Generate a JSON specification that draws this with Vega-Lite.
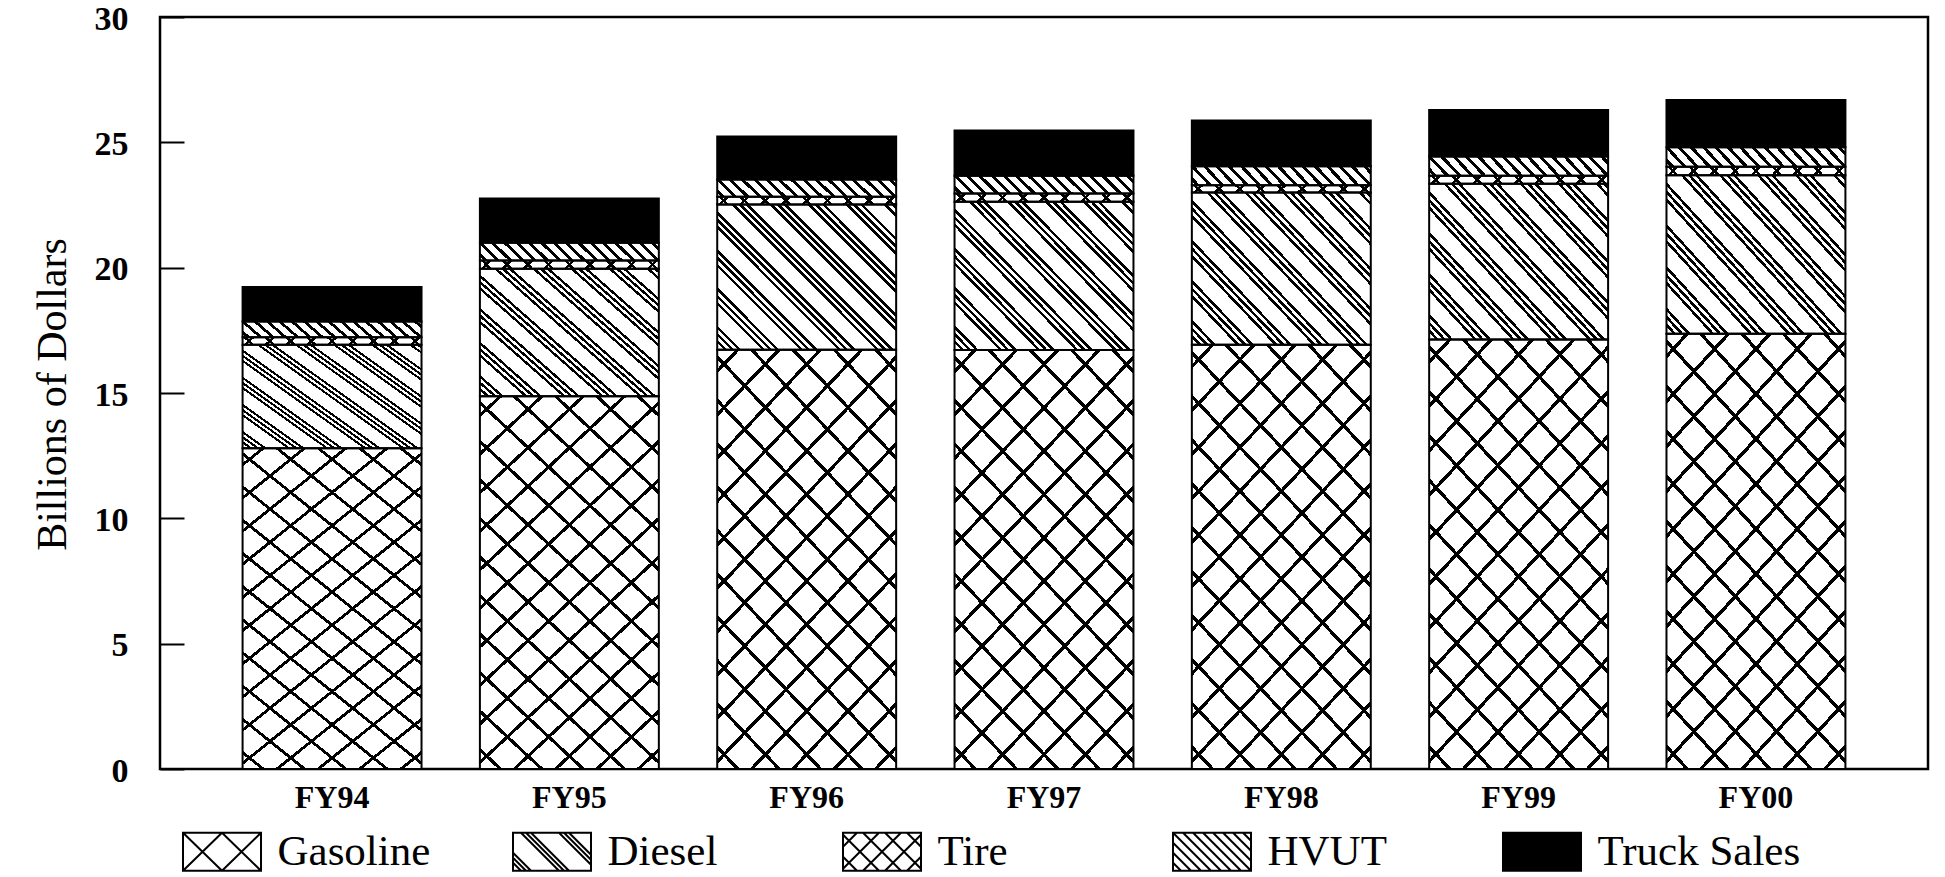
{
  "$schema": "https://vega.github.io/schema/vega-lite/v6.json",
  "autosize": {"type": "none"},
  "padding": {"left": 160, "top": 17, "right": 17, "bottom": 108},
  "width": 1768,
  "height": 752,
  "background": "white",
  "config": {
    "view": {"stroke": "black", "strokeWidth": 2.5},
    "font": "Liberation Serif"
  },
  "data": {"values": [
    {"year": "FY94", "type": "Gasoline", "stack_order": 1, "value": 12.8},
    {"year": "FY94", "type": "Diesel", "stack_order": 2, "value": 4.12},
    {"year": "FY94", "type": "Tire", "stack_order": 3, "value": 0.3},
    {"year": "FY94", "type": "HVUT", "stack_order": 4, "value": 0.63},
    {"year": "FY94", "type": "Truck Sales", "stack_order": 5, "value": 1.38},
    {"year": "FY95", "type": "Gasoline", "stack_order": 1, "value": 14.87},
    {"year": "FY95", "type": "Diesel", "stack_order": 2, "value": 5.09},
    {"year": "FY95", "type": "Tire", "stack_order": 3, "value": 0.33},
    {"year": "FY95", "type": "HVUT", "stack_order": 4, "value": 0.7},
    {"year": "FY95", "type": "Truck Sales", "stack_order": 5, "value": 1.77},
    {"year": "FY96", "type": "Gasoline", "stack_order": 1, "value": 16.73},
    {"year": "FY96", "type": "Diesel", "stack_order": 2, "value": 5.79},
    {"year": "FY96", "type": "Tire", "stack_order": 3, "value": 0.31},
    {"year": "FY96", "type": "HVUT", "stack_order": 4, "value": 0.69},
    {"year": "FY96", "type": "Truck Sales", "stack_order": 5, "value": 1.71},
    {"year": "FY97", "type": "Gasoline", "stack_order": 1, "value": 16.72},
    {"year": "FY97", "type": "Diesel", "stack_order": 2, "value": 5.91},
    {"year": "FY97", "type": "Tire", "stack_order": 3, "value": 0.33},
    {"year": "FY97", "type": "HVUT", "stack_order": 4, "value": 0.71},
    {"year": "FY97", "type": "Truck Sales", "stack_order": 5, "value": 1.8},
    {"year": "FY98", "type": "Gasoline", "stack_order": 1, "value": 16.92},
    {"year": "FY98", "type": "Diesel", "stack_order": 2, "value": 6.08},
    {"year": "FY98", "type": "Tire", "stack_order": 3, "value": 0.29},
    {"year": "FY98", "type": "HVUT", "stack_order": 4, "value": 0.76},
    {"year": "FY98", "type": "Truck Sales", "stack_order": 5, "value": 1.82},
    {"year": "FY99", "type": "Gasoline", "stack_order": 1, "value": 17.13},
    {"year": "FY99", "type": "Diesel", "stack_order": 2, "value": 6.22},
    {"year": "FY99", "type": "Tire", "stack_order": 3, "value": 0.32},
    {"year": "FY99", "type": "HVUT", "stack_order": 4, "value": 0.76},
    {"year": "FY99", "type": "Truck Sales", "stack_order": 5, "value": 1.86},
    {"year": "FY00", "type": "Gasoline", "stack_order": 1, "value": 17.36},
    {"year": "FY00", "type": "Diesel", "stack_order": 2, "value": 6.33},
    {"year": "FY00", "type": "Tire", "stack_order": 3, "value": 0.34},
    {"year": "FY00", "type": "HVUT", "stack_order": 4, "value": 0.77},
    {"year": "FY00", "type": "Truck Sales", "stack_order": 5, "value": 1.89}
  ]},
  "encoding": {
    "x": {
      "field": "year", "type": "ordinal", "sort": null,
      "scale": {"paddingInner": 0.246, "paddingOuter": 0.348},
      "axis": {
        "title": null, "labelAngle": 0, "ticks": false, "tickSize": 0, "domain": false,
        "labelFont": "Liberation Serif", "labelFontWeight": "bold", "labelFontSize": 32,
        "labelColor": "black", "labelPadding": 38, "labelBaseline": "alphabetic"
      }
    },
    "y": {
      "field": "value", "type": "quantitative", "stack": "zero",
      "scale": {"domain": [0, 30], "nice": false},
      "axis": {
        "title": "Billions of Dollars", "values": [0, 5, 10, 15, 20, 25, 30],
        "grid": false, "domain": false, "tickSize": -24, "tickWidth": 2, "tickColor": "black",
        "labelFont": "Liberation Serif", "labelFontWeight": "bold", "labelFontSize": 34,
        "labelColor": "black", "labelPadding": 56, "labelOffset": 2,
        "titleFont": "Liberation Serif", "titleFontWeight": "normal", "titleFontSize": 42,
        "titleColor": "black", "titleX": -95, "titleY": 377, "titleBaseline": "alphabetic", "titleAngle": -90
      }
    },
    "order": {"field": "stack_order", "type": "quantitative", "sort": "ascending"}
  },
  "layer": [
    {
      "mark": {"type": "bar", "strokeWidth": 0},
      "encoding": {
        "color": {
          "field": "type", "type": "nominal",
          "sort": ["Gasoline", "Diesel", "Tire", "HVUT", "Truck Sales"],
          "scale": {"domain": ["Gasoline", "Diesel", "Tire", "HVUT", "Truck Sales"], "range": ["white", "white", "white", "white", "black"]},
          "condition": [
            {"test": "datum.type === 'Gasoline'", "value": {"gradient": "linear", "x1": 0, "y1": 1, "x2": 0.54, "y2": -0.206, "stops": [
              {"offset": 0, "color": "#fff"},
              {"offset": 0.0317, "color": "#fff"}, {"offset": 0.0317, "color": "#000"}, {"offset": 0.0397, "color": "#000"}, {"offset": 0.0397, "color": "#fff"},
              {"offset": 0.1031, "color": "#fff"}, {"offset": 0.1031, "color": "#000"}, {"offset": 0.1111, "color": "#000"}, {"offset": 0.1111, "color": "#fff"},
              {"offset": 0.1746, "color": "#fff"}, {"offset": 0.1746, "color": "#000"}, {"offset": 0.1826, "color": "#000"}, {"offset": 0.1826, "color": "#fff"},
              {"offset": 0.246, "color": "#fff"}, {"offset": 0.246, "color": "#000"}, {"offset": 0.254, "color": "#000"}, {"offset": 0.254, "color": "#fff"},
              {"offset": 0.3174, "color": "#fff"}, {"offset": 0.3174, "color": "#000"}, {"offset": 0.3254, "color": "#000"}, {"offset": 0.3254, "color": "#fff"},
              {"offset": 0.3889, "color": "#fff"}, {"offset": 0.3889, "color": "#000"}, {"offset": 0.3969, "color": "#000"}, {"offset": 0.3969, "color": "#fff"},
              {"offset": 0.4603, "color": "#fff"}, {"offset": 0.4603, "color": "#000"}, {"offset": 0.4683, "color": "#000"}, {"offset": 0.4683, "color": "#fff"},
              {"offset": 0.5317, "color": "#fff"}, {"offset": 0.5317, "color": "#000"}, {"offset": 0.5397, "color": "#000"}, {"offset": 0.5397, "color": "#fff"},
              {"offset": 0.6031, "color": "#fff"}, {"offset": 0.6031, "color": "#000"}, {"offset": 0.6111, "color": "#000"}, {"offset": 0.6111, "color": "#fff"},
              {"offset": 0.6746, "color": "#fff"}, {"offset": 0.6746, "color": "#000"}, {"offset": 0.6826, "color": "#000"}, {"offset": 0.6826, "color": "#fff"},
              {"offset": 0.746, "color": "#fff"}, {"offset": 0.746, "color": "#000"}, {"offset": 0.754, "color": "#000"}, {"offset": 0.754, "color": "#fff"},
              {"offset": 0.8174, "color": "#fff"}, {"offset": 0.8174, "color": "#000"}, {"offset": 0.8254, "color": "#000"}, {"offset": 0.8254, "color": "#fff"},
              {"offset": 0.8889, "color": "#fff"}, {"offset": 0.8889, "color": "#000"}, {"offset": 0.8969, "color": "#000"}, {"offset": 0.8969, "color": "#fff"},
              {"offset": 0.9603, "color": "#fff"}, {"offset": 0.9603, "color": "#000"}, {"offset": 0.9683, "color": "#000"}, {"offset": 0.9683, "color": "#fff"},
              {"offset": 1, "color": "#fff"}
            ]}},
            {"test": "datum.type === 'Diesel'", "value": {"gradient": "linear", "x1": 0, "y1": 1, "x2": 1.093, "y2": 0.115, "stops": [
              {"offset": 0, "color": "#fff"},
              {"offset": 0.02, "color": "#fff"}, {"offset": 0.02, "color": "#000"}, {"offset": 0.031, "color": "#000"}, {"offset": 0.031, "color": "#fff"},
              {"offset": 0.042, "color": "#fff"}, {"offset": 0.042, "color": "#000"}, {"offset": 0.053, "color": "#000"}, {"offset": 0.053, "color": "#fff"},
              {"offset": 0.064, "color": "#fff"}, {"offset": 0.064, "color": "#000"}, {"offset": 0.075, "color": "#000"}, {"offset": 0.075, "color": "#fff"},
              {"offset": 0.1376, "color": "#fff"}, {"offset": 0.1376, "color": "#000"}, {"offset": 0.1486, "color": "#000"}, {"offset": 0.1486, "color": "#fff"},
              {"offset": 0.1596, "color": "#fff"}, {"offset": 0.1596, "color": "#000"}, {"offset": 0.1706, "color": "#000"}, {"offset": 0.1706, "color": "#fff"},
              {"offset": 0.1816, "color": "#fff"}, {"offset": 0.1816, "color": "#000"}, {"offset": 0.1926, "color": "#000"}, {"offset": 0.1926, "color": "#fff"},
              {"offset": 0.2552, "color": "#fff"}, {"offset": 0.2552, "color": "#000"}, {"offset": 0.2662, "color": "#000"}, {"offset": 0.2662, "color": "#fff"},
              {"offset": 0.2772, "color": "#fff"}, {"offset": 0.2772, "color": "#000"}, {"offset": 0.2882, "color": "#000"}, {"offset": 0.2882, "color": "#fff"},
              {"offset": 0.2992, "color": "#fff"}, {"offset": 0.2992, "color": "#000"}, {"offset": 0.3102, "color": "#000"}, {"offset": 0.3102, "color": "#fff"},
              {"offset": 0.3728, "color": "#fff"}, {"offset": 0.3728, "color": "#000"}, {"offset": 0.3838, "color": "#000"}, {"offset": 0.3838, "color": "#fff"},
              {"offset": 0.3948, "color": "#fff"}, {"offset": 0.3948, "color": "#000"}, {"offset": 0.4058, "color": "#000"}, {"offset": 0.4058, "color": "#fff"},
              {"offset": 0.4168, "color": "#fff"}, {"offset": 0.4168, "color": "#000"}, {"offset": 0.4278, "color": "#000"}, {"offset": 0.4278, "color": "#fff"},
              {"offset": 0.4904, "color": "#fff"}, {"offset": 0.4904, "color": "#000"}, {"offset": 0.5014, "color": "#000"}, {"offset": 0.5014, "color": "#fff"},
              {"offset": 0.5124, "color": "#fff"}, {"offset": 0.5124, "color": "#000"}, {"offset": 0.5234, "color": "#000"}, {"offset": 0.5234, "color": "#fff"},
              {"offset": 0.5344, "color": "#fff"}, {"offset": 0.5344, "color": "#000"}, {"offset": 0.5454, "color": "#000"}, {"offset": 0.5454, "color": "#fff"},
              {"offset": 0.608, "color": "#fff"}, {"offset": 0.608, "color": "#000"}, {"offset": 0.619, "color": "#000"}, {"offset": 0.619, "color": "#fff"},
              {"offset": 0.63, "color": "#fff"}, {"offset": 0.63, "color": "#000"}, {"offset": 0.641, "color": "#000"}, {"offset": 0.641, "color": "#fff"},
              {"offset": 0.652, "color": "#fff"}, {"offset": 0.652, "color": "#000"}, {"offset": 0.663, "color": "#000"}, {"offset": 0.663, "color": "#fff"},
              {"offset": 0.7256, "color": "#fff"}, {"offset": 0.7256, "color": "#000"}, {"offset": 0.7366, "color": "#000"}, {"offset": 0.7366, "color": "#fff"},
              {"offset": 0.7476, "color": "#fff"}, {"offset": 0.7476, "color": "#000"}, {"offset": 0.7586, "color": "#000"}, {"offset": 0.7586, "color": "#fff"},
              {"offset": 0.7696, "color": "#fff"}, {"offset": 0.7696, "color": "#000"}, {"offset": 0.7806, "color": "#000"}, {"offset": 0.7806, "color": "#fff"},
              {"offset": 0.8432, "color": "#fff"}, {"offset": 0.8432, "color": "#000"}, {"offset": 0.8542, "color": "#000"}, {"offset": 0.8542, "color": "#fff"},
              {"offset": 0.8652, "color": "#fff"}, {"offset": 0.8652, "color": "#000"}, {"offset": 0.8762, "color": "#000"}, {"offset": 0.8762, "color": "#fff"},
              {"offset": 0.8872, "color": "#fff"}, {"offset": 0.8872, "color": "#000"}, {"offset": 0.8982, "color": "#000"}, {"offset": 0.8982, "color": "#fff"},
              {"offset": 0.9608, "color": "#fff"}, {"offset": 0.9608, "color": "#000"}, {"offset": 0.9718, "color": "#000"}, {"offset": 0.9718, "color": "#fff"},
              {"offset": 0.9828, "color": "#fff"}, {"offset": 0.9828, "color": "#000"}, {"offset": 0.9938, "color": "#000"}, {"offset": 0.9938, "color": "#fff"},
              {"offset": 1, "color": "#fff"}
            ]}},
            {"test": "datum.type === 'Tire'", "value": {"gradient": "linear", "x1": 0, "y1": 1, "x2": 1.0426, "y2": 0.9534, "stops": [
              {"offset": 0, "color": "#fff"},
              {"offset": 0.0461, "color": "#fff"}, {"offset": 0.0461, "color": "#000"}, {"offset": 0.0651, "color": "#000"}, {"offset": 0.0651, "color": "#fff"},
              {"offset": 0.1572, "color": "#fff"}, {"offset": 0.1572, "color": "#000"}, {"offset": 0.1762, "color": "#000"}, {"offset": 0.1762, "color": "#fff"},
              {"offset": 0.2683, "color": "#fff"}, {"offset": 0.2683, "color": "#000"}, {"offset": 0.2873, "color": "#000"}, {"offset": 0.2873, "color": "#fff"},
              {"offset": 0.3794, "color": "#fff"}, {"offset": 0.3794, "color": "#000"}, {"offset": 0.3984, "color": "#000"}, {"offset": 0.3984, "color": "#fff"},
              {"offset": 0.4905, "color": "#fff"}, {"offset": 0.4905, "color": "#000"}, {"offset": 0.5095, "color": "#000"}, {"offset": 0.5095, "color": "#fff"},
              {"offset": 0.6016, "color": "#fff"}, {"offset": 0.6016, "color": "#000"}, {"offset": 0.6206, "color": "#000"}, {"offset": 0.6206, "color": "#fff"},
              {"offset": 0.7127, "color": "#fff"}, {"offset": 0.7127, "color": "#000"}, {"offset": 0.7317, "color": "#000"}, {"offset": 0.7317, "color": "#fff"},
              {"offset": 0.8238, "color": "#fff"}, {"offset": 0.8238, "color": "#000"}, {"offset": 0.8428, "color": "#000"}, {"offset": 0.8428, "color": "#fff"},
              {"offset": 0.9349, "color": "#fff"}, {"offset": 0.9349, "color": "#000"}, {"offset": 0.9539, "color": "#000"}, {"offset": 0.9539, "color": "#fff"},
              {"offset": 1, "color": "#fff"}
            ]}},
            {"test": "datum.type === 'HVUT'", "value": {"gradient": "linear", "x1": 0, "y1": 1, "x2": 1.0896, "y2": 0.8904, "stops": [
              {"offset": 0, "color": "#fff"},
              {"offset": 0.02, "color": "#fff"}, {"offset": 0.02, "color": "#000"}, {"offset": 0.0415, "color": "#000"}, {"offset": 0.0415, "color": "#fff"},
              {"offset": 0.0825, "color": "#fff"}, {"offset": 0.0825, "color": "#000"}, {"offset": 0.104, "color": "#000"}, {"offset": 0.104, "color": "#fff"},
              {"offset": 0.145, "color": "#fff"}, {"offset": 0.145, "color": "#000"}, {"offset": 0.1665, "color": "#000"}, {"offset": 0.1665, "color": "#fff"},
              {"offset": 0.2075, "color": "#fff"}, {"offset": 0.2075, "color": "#000"}, {"offset": 0.229, "color": "#000"}, {"offset": 0.229, "color": "#fff"},
              {"offset": 0.27, "color": "#fff"}, {"offset": 0.27, "color": "#000"}, {"offset": 0.2915, "color": "#000"}, {"offset": 0.2915, "color": "#fff"},
              {"offset": 0.3325, "color": "#fff"}, {"offset": 0.3325, "color": "#000"}, {"offset": 0.354, "color": "#000"}, {"offset": 0.354, "color": "#fff"},
              {"offset": 0.395, "color": "#fff"}, {"offset": 0.395, "color": "#000"}, {"offset": 0.4165, "color": "#000"}, {"offset": 0.4165, "color": "#fff"},
              {"offset": 0.4575, "color": "#fff"}, {"offset": 0.4575, "color": "#000"}, {"offset": 0.479, "color": "#000"}, {"offset": 0.479, "color": "#fff"},
              {"offset": 0.52, "color": "#fff"}, {"offset": 0.52, "color": "#000"}, {"offset": 0.5415, "color": "#000"}, {"offset": 0.5415, "color": "#fff"},
              {"offset": 0.5825, "color": "#fff"}, {"offset": 0.5825, "color": "#000"}, {"offset": 0.604, "color": "#000"}, {"offset": 0.604, "color": "#fff"},
              {"offset": 0.645, "color": "#fff"}, {"offset": 0.645, "color": "#000"}, {"offset": 0.6665, "color": "#000"}, {"offset": 0.6665, "color": "#fff"},
              {"offset": 0.7075, "color": "#fff"}, {"offset": 0.7075, "color": "#000"}, {"offset": 0.729, "color": "#000"}, {"offset": 0.729, "color": "#fff"},
              {"offset": 0.77, "color": "#fff"}, {"offset": 0.77, "color": "#000"}, {"offset": 0.7915, "color": "#000"}, {"offset": 0.7915, "color": "#fff"},
              {"offset": 0.8325, "color": "#fff"}, {"offset": 0.8325, "color": "#000"}, {"offset": 0.854, "color": "#000"}, {"offset": 0.854, "color": "#fff"},
              {"offset": 0.895, "color": "#fff"}, {"offset": 0.895, "color": "#000"}, {"offset": 0.9165, "color": "#000"}, {"offset": 0.9165, "color": "#fff"},
              {"offset": 0.9575, "color": "#fff"}, {"offset": 0.9575, "color": "#000"}, {"offset": 0.979, "color": "#000"}, {"offset": 0.979, "color": "#fff"},
              {"offset": 1, "color": "#fff"}
            ]}}
          ],
          "legend": {
            "orient": "none", "legendX": 22, "legendY": 813,
            "direction": "horizontal", "columns": 5, "gridAlign": "all", "columnPadding": 28,
            "title": null, "padding": 0,
            "symbolSize": 4, "symbolStrokeWidth": 2, "symbolOffset": 18.5, "symbolStrokeColor": "black",
            "labelOffset": 34, "labelFont": "Liberation Serif", "labelFontSize": 43, "labelColor": "black", "labelLimit": 0,
            "encode": {
              "symbols": {
                "update": {
                  "shape": {"signal": "datum.value === 'Gasoline' ? 'M-39,-19H39V19H-39ZM-39,-19L0,19M-39,19L0,-19M0,-19L39,19M0,19L39,-19' : datum.value === 'Diesel' ? 'M-39,-19H39V19H-39ZM-39,11L-31,19M-39,6L-26,19M-39,1L-21,19M-31,-19L7,19M-26,-19L12,19M-21,-19L17,19M7,-19L39,13M12,-19L39,8M17,-19L39,3' : datum.value === 'Tire' ? 'M-39,-19H39V19H-39ZM-39,5L-25,19M-39,-17L-3,19M-19,-19L19,19M3,-19L39,17M25,-19L39,-5M-25,-19L-39,-5M-3,-19L-39,17M19,-19L-19,19M39,-17L3,19M39,5L25,19' : datum.value === 'HVUT' ? 'M-39,-19H39V19H-39ZM-39,11L-31,19M-39,1L-21,19M-39,-9L-11,19M-39,-19L-1,19M-29,-19L9,19M-19,-19L19,19M-9,-19L29,19M1,-19L39,19M11,-19L39,9M21,-19L39,-1M31,-19L39,-11' : 'M-39,-19H39V19H-39Z'"},
                  "fill": {"signal": "datum.value === 'Truck Sales' ? 'black' : 'white'"},
                  "stroke": {"value": "black"},
                  "strokeWidth": {"value": 2},
                  "size": {"value": 4},
                  "opacity": {"value": 1}
                }
              }
            }
          }
        }
      }
    },
    {
      "mark": {"type": "bar", "strokeWidth": 2},
      "encoding": {
        "stroke": {
          "field": "type", "type": "nominal",
          "sort": ["Gasoline", "Diesel", "Tire", "HVUT", "Truck Sales"],
          "scale": {"domain": ["Gasoline", "Diesel", "Tire", "HVUT", "Truck Sales"], "range": ["black", "black", "black", "black", "black"]},
          "legend": null
        },
        "fill": {
          "condition": [
            {"test": "datum.type === 'Gasoline'", "value": {"gradient": "linear", "x1": 0, "y1": 0, "x2": 0.54, "y2": 1.206, "stops": [
              {"offset": 0, "color": "transparent"},
              {"offset": 0.0317, "color": "transparent"}, {"offset": 0.0317, "color": "#000"}, {"offset": 0.0397, "color": "#000"}, {"offset": 0.0397, "color": "transparent"},
              {"offset": 0.1031, "color": "transparent"}, {"offset": 0.1031, "color": "#000"}, {"offset": 0.1111, "color": "#000"}, {"offset": 0.1111, "color": "transparent"},
              {"offset": 0.1746, "color": "transparent"}, {"offset": 0.1746, "color": "#000"}, {"offset": 0.1826, "color": "#000"}, {"offset": 0.1826, "color": "transparent"},
              {"offset": 0.246, "color": "transparent"}, {"offset": 0.246, "color": "#000"}, {"offset": 0.254, "color": "#000"}, {"offset": 0.254, "color": "transparent"},
              {"offset": 0.3174, "color": "transparent"}, {"offset": 0.3174, "color": "#000"}, {"offset": 0.3254, "color": "#000"}, {"offset": 0.3254, "color": "transparent"},
              {"offset": 0.3889, "color": "transparent"}, {"offset": 0.3889, "color": "#000"}, {"offset": 0.3969, "color": "#000"}, {"offset": 0.3969, "color": "transparent"},
              {"offset": 0.4603, "color": "transparent"}, {"offset": 0.4603, "color": "#000"}, {"offset": 0.4683, "color": "#000"}, {"offset": 0.4683, "color": "transparent"},
              {"offset": 0.5317, "color": "transparent"}, {"offset": 0.5317, "color": "#000"}, {"offset": 0.5397, "color": "#000"}, {"offset": 0.5397, "color": "transparent"},
              {"offset": 0.6031, "color": "transparent"}, {"offset": 0.6031, "color": "#000"}, {"offset": 0.6111, "color": "#000"}, {"offset": 0.6111, "color": "transparent"},
              {"offset": 0.6746, "color": "transparent"}, {"offset": 0.6746, "color": "#000"}, {"offset": 0.6826, "color": "#000"}, {"offset": 0.6826, "color": "transparent"},
              {"offset": 0.746, "color": "transparent"}, {"offset": 0.746, "color": "#000"}, {"offset": 0.754, "color": "#000"}, {"offset": 0.754, "color": "transparent"},
              {"offset": 0.8174, "color": "transparent"}, {"offset": 0.8174, "color": "#000"}, {"offset": 0.8254, "color": "#000"}, {"offset": 0.8254, "color": "transparent"},
              {"offset": 0.8889, "color": "transparent"}, {"offset": 0.8889, "color": "#000"}, {"offset": 0.8969, "color": "#000"}, {"offset": 0.8969, "color": "transparent"},
              {"offset": 0.9603, "color": "transparent"}, {"offset": 0.9603, "color": "#000"}, {"offset": 0.9683, "color": "#000"}, {"offset": 0.9683, "color": "transparent"},
              {"offset": 1, "color": "transparent"}
            ]}},
            {"test": "datum.type === 'Tire'", "value": {"gradient": "linear", "x1": 0, "y1": 0, "x2": 1.0426, "y2": 0.0466, "stops": [
              {"offset": 0, "color": "transparent"},
              {"offset": 0.0461, "color": "transparent"}, {"offset": 0.0461, "color": "#000"}, {"offset": 0.0651, "color": "#000"}, {"offset": 0.0651, "color": "transparent"},
              {"offset": 0.1572, "color": "transparent"}, {"offset": 0.1572, "color": "#000"}, {"offset": 0.1762, "color": "#000"}, {"offset": 0.1762, "color": "transparent"},
              {"offset": 0.2683, "color": "transparent"}, {"offset": 0.2683, "color": "#000"}, {"offset": 0.2873, "color": "#000"}, {"offset": 0.2873, "color": "transparent"},
              {"offset": 0.3794, "color": "transparent"}, {"offset": 0.3794, "color": "#000"}, {"offset": 0.3984, "color": "#000"}, {"offset": 0.3984, "color": "transparent"},
              {"offset": 0.4905, "color": "transparent"}, {"offset": 0.4905, "color": "#000"}, {"offset": 0.5095, "color": "#000"}, {"offset": 0.5095, "color": "transparent"},
              {"offset": 0.6016, "color": "transparent"}, {"offset": 0.6016, "color": "#000"}, {"offset": 0.6206, "color": "#000"}, {"offset": 0.6206, "color": "transparent"},
              {"offset": 0.7127, "color": "transparent"}, {"offset": 0.7127, "color": "#000"}, {"offset": 0.7317, "color": "#000"}, {"offset": 0.7317, "color": "transparent"},
              {"offset": 0.8238, "color": "transparent"}, {"offset": 0.8238, "color": "#000"}, {"offset": 0.8428, "color": "#000"}, {"offset": 0.8428, "color": "transparent"},
              {"offset": 0.9349, "color": "transparent"}, {"offset": 0.9349, "color": "#000"}, {"offset": 0.9539, "color": "#000"}, {"offset": 0.9539, "color": "transparent"},
              {"offset": 1, "color": "transparent"}
            ]}}
          ],
          "value": "transparent"
        }
      }
    }
  ]
}
